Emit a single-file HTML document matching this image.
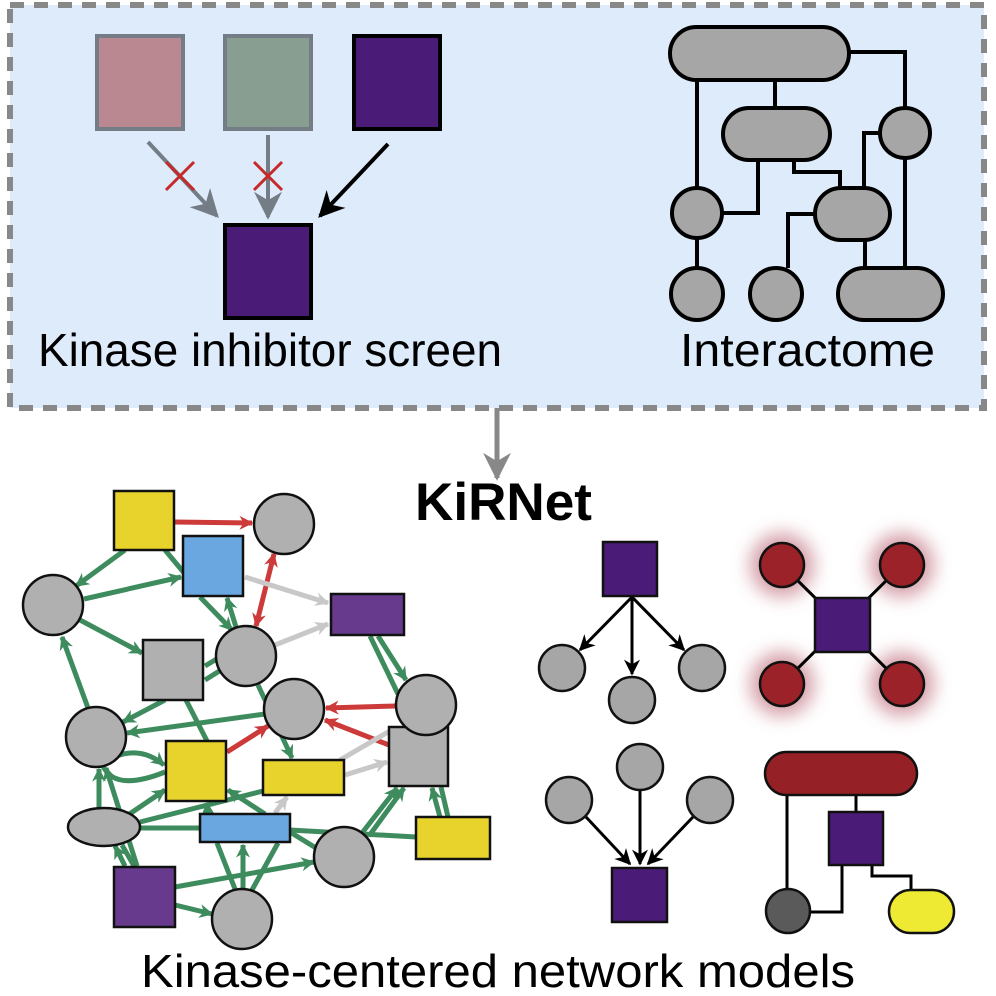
<!DOCTYPE html>
<html><head><meta charset="utf-8"><style>
html,body{margin:0;padding:0;background:#fff}
svg{display:block}
text{font-family:"Liberation Sans",Arial,sans-serif}
</style></head><body>
<svg width="996" height="996" viewBox="0 0 996 996" xmlns="http://www.w3.org/2000/svg">
<defs>
<marker id="ag" viewBox="0 0 10 10" refX="9" refY="5" markerWidth="14" markerHeight="14" markerUnits="userSpaceOnUse" orient="auto-start-reverse"><path d="M0,0 L10,5 L0,10 L3,5z" fill="#3e8c5e"/></marker>
<marker id="ar" viewBox="0 0 10 10" refX="9" refY="5" markerWidth="14" markerHeight="14" markerUnits="userSpaceOnUse" orient="auto-start-reverse"><path d="M0,0 L10,5 L0,10 L3,5z" fill="#cc3a3a"/></marker>
<marker id="al" viewBox="0 0 10 10" refX="9" refY="5" markerWidth="14" markerHeight="14" markerUnits="userSpaceOnUse" orient="auto-start-reverse"><path d="M0,0 L10,5 L0,10 L3,5z" fill="#c8c8c8"/></marker>
<marker id="ak" viewBox="0 0 10 10" refX="9" refY="5" markerWidth="16" markerHeight="16" markerUnits="userSpaceOnUse" orient="auto"><path d="M0,0 L10,5 L0,10 L3,5z" fill="#000"/></marker>
<marker id="ak2" viewBox="0 0 10 10" refX="9" refY="5" markerWidth="26" markerHeight="26" markerUnits="userSpaceOnUse" orient="auto"><path d="M0,0 L10,5 L0,10 L3,5z" fill="#000"/></marker>
<marker id="agr" viewBox="0 0 10 10" refX="9" refY="5" markerWidth="28" markerHeight="28" markerUnits="userSpaceOnUse" orient="auto"><path d="M0,0 L10,5 L0,10 L3,5z" fill="#747c86"/></marker>
<marker id="agd" viewBox="0 0 10 10" refX="9" refY="5" markerWidth="28" markerHeight="28" markerUnits="userSpaceOnUse" orient="auto"><path d="M0,0 L10,5 L0,10 L3,5z" fill="#888"/></marker>
<filter id="glow" x="-80%" y="-80%" width="260%" height="260%"><feGaussianBlur stdDeviation="9"/></filter>
</defs>

<rect x="10" y="5" width="974" height="403" fill="#deebfb" stroke="#888" stroke-width="6" stroke-dasharray="14,10"/>

<rect x="97" y="36" width="86" height="93" fill="#b98890" stroke="#747c86" stroke-width="4"/>
<rect x="225" y="36" width="86" height="93" fill="#889e90" stroke="#747c86" stroke-width="4"/>
<rect x="354" y="36" width="86" height="93" fill="#4a1c78" stroke="#000" stroke-width="4"/>
<rect x="225" y="225" width="86" height="93" fill="#4a1c78" stroke="#000" stroke-width="4"/>
<line x1="148" y1="142" x2="217" y2="216" stroke="#747c86" stroke-width="4" marker-end="url(#agr)"/>
<line x1="268" y1="135" x2="268" y2="217" stroke="#747c86" stroke-width="4" marker-end="url(#agr)"/>
<line x1="388" y1="144" x2="320" y2="216" stroke="#000" stroke-width="4" marker-end="url(#ak2)"/>
<g stroke="#c42a2a" stroke-width="3"><line x1="166" y1="162" x2="194" y2="190"/><line x1="194" y1="162" x2="166" y2="190"/><line x1="254" y1="162" x2="282" y2="190"/><line x1="282" y1="162" x2="254" y2="190"/></g>
<text x="38" y="366" font-size="46" textLength="464" lengthAdjust="spacingAndGlyphs">Kinase inhibitor screen</text>

<g stroke="#000" stroke-width="4" fill="none">
<path d="M697,80 V188"/><path d="M775,80 V108"/><path d="M849,52 H905 V108"/>
<path d="M758,160 V213 H722"/><path d="M794,160 V172 H840 V188"/>
<path d="M880,133 H864 V188"/><path d="M905,158 V268"/><path d="M865,240 V268"/>
<path d="M815,214 H788 V268"/><path d="M697,238 V268"/>
</g>
<g fill="#a6a6a6" stroke="#000" stroke-width="4">
<rect x="670" y="27" width="179" height="53" rx="26.5"/>
<circle cx="905" cy="133" r="25"/>
<rect x="723" y="108" width="107" height="52" rx="26"/>
<circle cx="697" cy="213" r="25"/>
<rect x="815" y="188" width="75" height="52" rx="26"/>
<circle cx="697" cy="294" r="26"/>
<circle cx="776" cy="294" r="26"/>
<rect x="838" y="268" width="105" height="52" rx="26"/>
</g>
<text x="680" y="366" font-size="46" textLength="255" lengthAdjust="spacingAndGlyphs">Interactome</text>

<line x1="497" y1="408" x2="497" y2="478" stroke="#888" stroke-width="5" marker-end="url(#agd)"/>
<text x="415" y="520" font-size="53" font-weight="bold" textLength="177" lengthAdjust="spacingAndGlyphs">KiRNet</text>

<g stroke="#3e8c5e" stroke-width="5" fill="none">
<line x1="125" y1="550" x2="76" y2="586" marker-end="url(#ag)"/>
<line x1="165" y1="550" x2="185" y2="574"/>
<line x1="84" y1="599" x2="181" y2="577" marker-end="url(#ag)"/>
<line x1="80" y1="620" x2="142" y2="653" marker-end="url(#ag)"/>
<line x1="200" y1="597" x2="232" y2="630" marker-end="url(#ag)"/>
<line x1="236" y1="627" x2="227" y2="598" marker-end="url(#ag)"/>
<line x1="205" y1="666" x2="220" y2="657"/>
<line x1="205" y1="680" x2="221" y2="670"/>
<line x1="378" y1="636" x2="406" y2="680" marker-end="url(#ag)"/>
<line x1="370" y1="636" x2="398" y2="694"/>
<line x1="265" y1="714" x2="127" y2="733" marker-end="url(#ag)"/>
<line x1="165" y1="700" x2="123" y2="722" marker-end="url(#ag)"/>
<line x1="88" y1="708" x2="62" y2="637" marker-end="url(#ag)"/>
<line x1="258" y1="685" x2="292" y2="758" marker-end="url(#ag)"/>
<line x1="186" y1="700" x2="207" y2="741"/>
<path d="M112,758 Q140,745 164,765" marker-end="url(#ag)"/>
<path d="M103,766 Q115,792 165,772"/>
<line x1="99" y1="808" x2="99" y2="769" marker-end="url(#ag)"/>
<line x1="137" y1="866" x2="106" y2="768" marker-end="url(#ag)"/>
<line x1="128" y1="815" x2="165" y2="790" marker-end="url(#ag)"/>
<line x1="140" y1="822" x2="263" y2="791"/>
<line x1="140" y1="828" x2="200" y2="828"/>
<line x1="265" y1="814" x2="228" y2="790" marker-end="url(#ag)"/>
<line x1="208" y1="814" x2="207" y2="803" marker-end="url(#ag)"/>
<line x1="290" y1="832" x2="316" y2="848"/>
<line x1="290" y1="830" x2="416" y2="837"/>
<line x1="362" y1="833" x2="397" y2="788" marker-end="url(#ag)"/>
<line x1="369" y1="836" x2="404" y2="788" marker-end="url(#ag)"/>
<line x1="440" y1="817" x2="432" y2="788" marker-end="url(#ag)"/>
<line x1="448" y1="817" x2="441" y2="787"/>
<line x1="125" y1="866" x2="115" y2="846" marker-end="url(#ag)"/>
<line x1="134" y1="866" x2="122" y2="845"/>
<line x1="175" y1="887" x2="314" y2="862" marker-end="url(#ag)"/>
<line x1="175" y1="905" x2="212" y2="914" marker-end="url(#ag)"/>
<line x1="235" y1="889" x2="217" y2="843"/>
<line x1="243" y1="889" x2="243" y2="845" marker-end="url(#ag)"/>
<line x1="252" y1="890" x2="278" y2="843"/>
</g>
<g stroke="#cc3a3a" stroke-width="5" fill="none">
<line x1="175" y1="522" x2="252" y2="523" marker-end="url(#ar)"/>
<line x1="274" y1="554" x2="256" y2="626" marker-start="url(#ar)" marker-end="url(#ar)"/>
<line x1="396" y1="706" x2="326" y2="708" marker-end="url(#ar)"/>
<line x1="389" y1="745" x2="325" y2="720" marker-end="url(#ar)"/>
<line x1="227" y1="752" x2="268" y2="726" marker-end="url(#ar)"/>
</g>
<g stroke="#c8c8c8" stroke-width="5" fill="none">
<line x1="245" y1="577" x2="328" y2="603" marker-end="url(#al)"/>
<line x1="275" y1="645" x2="328" y2="624" marker-end="url(#al)"/>
<line x1="345" y1="775" x2="387" y2="762" marker-end="url(#al)"/>
<line x1="340" y1="760" x2="395" y2="728"/>
<line x1="275" y1="813" x2="287" y2="797" marker-end="url(#al)"/>
</g>

<g stroke="#111" stroke-width="2.5">
<rect x="114" y="491" width="60" height="59" fill="#e8d22c"/>
<circle cx="284" cy="524" r="30" fill="#b0b0b0"/>
<rect x="183" y="536" width="60" height="60" fill="#6aa7e0"/>
<circle cx="53" cy="605" r="30" fill="#b0b0b0"/>
<rect x="331" y="594" width="73" height="41" fill="#673a8e"/>
<rect x="143" y="640" width="60" height="60" fill="#b0b0b0"/>
<circle cx="246" cy="656" r="30" fill="#b0b0b0"/>
<circle cx="294" cy="709" r="30" fill="#b0b0b0"/>
<rect x="389" y="727" width="59" height="59" fill="#b0b0b0"/>
<circle cx="426" cy="705" r="30" fill="#b0b0b0"/>
<circle cx="96" cy="737" r="30" fill="#b0b0b0"/>
<rect x="166" y="741" width="60" height="60" fill="#e8d22c"/>
<rect x="263" y="760" width="81" height="35" fill="#e8d22c"/>
<ellipse cx="104" cy="827" rx="36" ry="19" fill="#b0b0b0"/>
<rect x="200" y="814" width="90" height="28" fill="#6aa7e0"/>
<rect x="416" y="817" width="74" height="42" fill="#e8d22c"/>
<circle cx="344" cy="857" r="30" fill="#b0b0b0"/>
<rect x="114" y="867" width="61" height="60" fill="#673a8e"/>
<circle cx="242" cy="919" r="30" fill="#b0b0b0"/>
</g>

<g stroke="#000" stroke-width="3">
<line x1="632" y1="597" x2="580" y2="650" marker-end="url(#ak)"/>
<line x1="632" y1="597" x2="632" y2="674" marker-end="url(#ak)"/>
<line x1="632" y1="597" x2="684" y2="650" marker-end="url(#ak)"/>
</g>
<g stroke="#111" stroke-width="2.5">
<rect x="603" y="542" width="54" height="54" fill="#4a1c78"/>
<circle cx="562" cy="668" r="23" fill="#a6a6a6"/>
<circle cx="632" cy="700" r="23" fill="#a6a6a6"/>
<circle cx="702" cy="668" r="23" fill="#a6a6a6"/>
</g>

<g fill="#b05060" opacity="0.55" filter="url(#glow)">
<circle cx="782" cy="565" r="32"/><circle cx="902" cy="565" r="32"/><circle cx="782" cy="684" r="32"/><circle cx="902" cy="684" r="32"/>
</g>
<g stroke="#000" stroke-width="3"><line x1="782" y1="565" x2="902" y2="684"/><line x1="902" y1="565" x2="782" y2="684"/></g>
<g stroke="#111" stroke-width="2.5">
<circle cx="782" cy="565" r="22" fill="#9b2228"/><circle cx="902" cy="565" r="22" fill="#9b2228"/>
<circle cx="782" cy="684" r="22" fill="#9b2228"/><circle cx="902" cy="684" r="22" fill="#9b2228"/>
<rect x="815" y="598" width="55" height="54" fill="#4a1c78"/>
</g>

<g stroke="#000" stroke-width="3">
<line x1="586" y1="817" x2="630" y2="864" marker-end="url(#ak)"/>
<line x1="640" y1="790" x2="640" y2="864" marker-end="url(#ak)"/>
<line x1="693" y1="817" x2="648" y2="864" marker-end="url(#ak)"/>
</g>
<g stroke="#111" stroke-width="2.5">
<circle cx="569" cy="800" r="23" fill="#a6a6a6"/>
<circle cx="640" cy="767" r="23" fill="#a6a6a6"/>
<circle cx="710" cy="800" r="23" fill="#a6a6a6"/>
<rect x="612" y="868" width="55" height="54" fill="#4a1c78"/>
</g>

<g stroke="#000" stroke-width="3" fill="none">
<path d="M787,795 V890"/><path d="M856,795 V812"/><path d="M842,865 V912 H810"/><path d="M872,865 V876 H911 V890"/>
</g>
<g stroke="#111" stroke-width="2.5">
<rect x="765" y="752" width="152" height="43" rx="21.5" fill="#952127"/>
<rect x="829" y="812" width="54" height="53" fill="#4a1c78"/>
<circle cx="788" cy="911" r="22" fill="#5a5a5a"/>
<rect x="889" y="890" width="65" height="43" rx="21.5" fill="#eeea33"/>
</g>

<text x="141" y="987" font-size="46" textLength="714" lengthAdjust="spacingAndGlyphs">Kinase-centered network models</text>
</svg>
</body></html>
